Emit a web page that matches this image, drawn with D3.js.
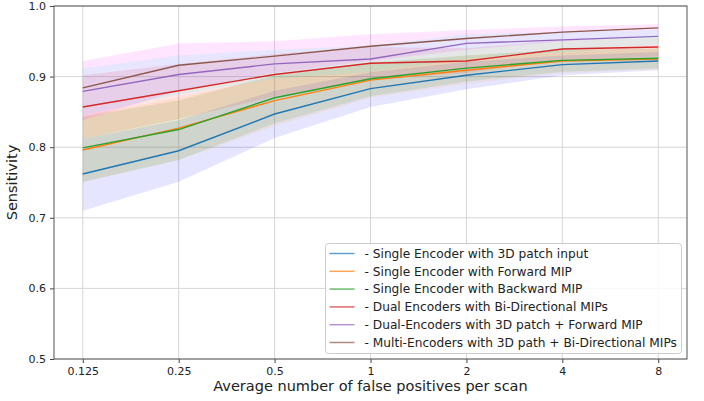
<!DOCTYPE html>
<html>
<head>
<meta charset="utf-8">
<script src="https://cdn.jsdelivr.net/npm/d3@7"></script>
<style>
  body { margin: 0; background: #fff; }
  svg text { font-family: "DejaVu Sans", sans-serif; fill: #222; }
</style>
</head>
<body>
<div id="chart"></div>
<script>
// x categories (false positives per scan)
var fpLabels = ["0.125", "0.25", "0.5", "1", "2", "4", "8"];
var yTicks = [0.5, 0.6, 0.7, 0.8, 0.9, 1.0];

var seriesNames = [
  "- Single Encoder with 3D patch input",
  "- Single Encoder with Forward MIP",
  "- Single Encoder with Backward MIP",
  "- Dual Encoders with Bi-Directional MIPs",
  "- Dual-Encoders with 3D patch + Forward MIP",
  "- Multi-Encoders with 3D path + Bi-Directional MIPs"
];

// mean sensitivity per series
var single3d   = [0.762, 0.795, 0.847, 0.883, 0.902, 0.917, 0.922];
var singleFwd  = [0.796, 0.827, 0.866, 0.895, 0.909, 0.922, 0.925];
var singleBwd  = [0.799, 0.825, 0.870, 0.897, 0.912, 0.923, 0.926];
var dualBi     = [0.857, 0.880, 0.903, 0.919, 0.922, 0.939, 0.942];
var dual3dFwd  = [0.879, 0.903, 0.918, 0.925, 0.947, 0.952, 0.957];
var multiBi    = [0.884, 0.916, 0.929, 0.943, 0.954, 0.963, 0.969];

// lower / upper bounds of shaded bands
var single3dLo  = [0.710, 0.751, 0.813, 0.857, 0.882, 0.902, 0.909];
var single3dHi  = [0.812, 0.838, 0.880, 0.906, 0.921, 0.930, 0.935];
var singleFwdLo = [0.750, 0.782, 0.830, 0.870, 0.890, 0.905, 0.910];
var singleFwdHi = [0.845, 0.870, 0.900, 0.918, 0.930, 0.937, 0.940];
var singleBwdLo = [0.751, 0.782, 0.834, 0.872, 0.893, 0.907, 0.912];
var singleBwdHi = [0.843, 0.866, 0.902, 0.920, 0.930, 0.938, 0.940];
var dualBiLo    = [0.812, 0.840, 0.872, 0.896, 0.905, 0.924, 0.928];
var dualBiHi    = [0.902, 0.918, 0.932, 0.942, 0.940, 0.952, 0.955];
var dual3dFwdLo = [0.845, 0.875, 0.897, 0.907, 0.925, 0.935, 0.945];
var dual3dFwdHi = [0.912, 0.930, 0.938, 0.944, 0.960, 0.963, 0.966];
var multiBiLo   = [0.838, 0.880, 0.905, 0.922, 0.938, 0.950, 0.958];
var multiBiHi   = [0.922, 0.947, 0.950, 0.960, 0.966, 0.971, 0.974];

var means = [single3d, singleFwd, singleBwd, dualBi, dual3dFwd, multiBi];
var lows  = [single3dLo, singleFwdLo, singleBwdLo, dualBiLo, dual3dFwdLo, multiBiLo];
var highs = [single3dHi, singleFwdHi, singleBwdHi, dualBiHi, dual3dFwdHi, multiBiHi];

var lineColors = ["#1f77b4", "#ff7f0e", "#2ca02c", "#d62728", "#9467bd", "#8c564b"];
var bandColors = ["blue", "orange", "green", "red", "cyan", "magenta"];

var svgWidth = 704, svgHeight = 401;
var margin = { top: 6, right: 17, bottom: 42, left: 54 };
var width = svgWidth - margin.left - margin.right;
var height = svgHeight - margin.top - margin.bottom;

var svg = d3.select("#chart").append("svg")
  .attr("width", svgWidth)
  .attr("height", svgHeight);

var chartGroup = svg.append("g")
  .attr("transform", `translate(${margin.left}, ${margin.top})`);

var xScale = d3.scalePoint()
  .domain(fpLabels)
  .range([0, width])
  .padding(0.3);

var yScale = d3.scaleLinear()
  .domain([0.5, 1.0])
  .range([height, 0]);

// grid
chartGroup.append("g")
  .selectAll("line.vgrid")
  .data(fpLabels)
  .enter()
  .append("line")
  .attr("x1", d => xScale(d)).attr("x2", d => xScale(d))
  .attr("y1", 0).attr("y2", height)
  .attr("stroke", "#d6d6d6").attr("stroke-width", 1);

chartGroup.append("g")
  .selectAll("line.hgrid")
  .data(yTicks)
  .enter()
  .append("line")
  .attr("x1", 0).attr("x2", width)
  .attr("y1", d => yScale(d)).attr("y2", d => yScale(d))
  .attr("stroke", "#d6d6d6").attr("stroke-width", 1);

// bands
var area = d3.area()
  .x((d, i) => xScale(fpLabels[i]))
  .y0(d => yScale(d[0]))
  .y1(d => yScale(d[1]));

means.forEach(function(m, s) {
  var band = lows[s].map((lo, i) => [lo, highs[s][i]]);
  chartGroup.append("path")
    .datum(band)
    .attr("d", area)
    .attr("fill", bandColors[s])
    .attr("fill-opacity", 0.1)
    .attr("stroke", "none");
});

// lines
var line = d3.line()
  .x((d, i) => xScale(fpLabels[i]))
  .y(d => yScale(d));

means.forEach(function(m, s) {
  chartGroup.append("path")
    .datum(m)
    .attr("d", line)
    .attr("fill", "none")
    .attr("stroke", lineColors[s])
    .attr("stroke-width", 1.4);
});

// axes
var bottomAxis = d3.axisBottom(xScale).tickSize(4).tickPadding(4);
var leftAxis = d3.axisLeft(yScale).tickValues(yTicks).tickFormat(d3.format(".1f")).tickSize(4).tickPadding(4);

var xAxisG = chartGroup.append("g")
  .attr("transform", `translate(0, ${height})`)
  .call(bottomAxis);
var yAxisG = chartGroup.append("g").call(leftAxis);

[xAxisG, yAxisG].forEach(function(g) {
  g.select(".domain").remove();
  g.selectAll("line").attr("stroke", "#444");
  g.selectAll("text").style("font-size", "11px").attr("fill", "#222");
});

// frame
chartGroup.append("rect")
  .attr("width", width).attr("height", height)
  .attr("fill", "none").attr("stroke", "#555").attr("stroke-width", 1);

// axis labels
chartGroup.append("text")
  .attr("transform", "rotate(-90)")
  .attr("x", -height / 2)
  .attr("y", -37)
  .attr("text-anchor", "middle")
  .style("font-size", "14.5px")
  .text("Sensitivity");

chartGroup.append("text")
  .attr("x", width / 2)
  .attr("y", height + 32)
  .attr("text-anchor", "middle")
  .style("font-size", "14.5px")
  .text("Average number of false positives per scan");

// legend
var legend = svg.append("g").attr("transform", "translate(325.5, 243.5)");
legend.append("rect")
  .attr("width", 356).attr("height", 110)
  .attr("rx", 3)
  .attr("fill", "white").attr("fill-opacity", 0.85)
  .attr("stroke", "#ccc");

var rows = legend.selectAll("g.row")
  .data(seriesNames)
  .enter()
  .append("g")
  .attr("transform", (d, i) => `translate(0, ${10 + i * 17.8})`);

rows.append("line")
  .attr("x1", 4).attr("x2", 29)
  .attr("stroke", (d, i) => lineColors[i])
  .attr("stroke-opacity", 0.7)
  .attr("stroke-width", 1.5);

rows.append("text")
  .attr("x", 39)
  .attr("dy", "0.35em")
  .style("font-size", "12.2px")
  .text(d => d);
</script>
</body>
</html>
